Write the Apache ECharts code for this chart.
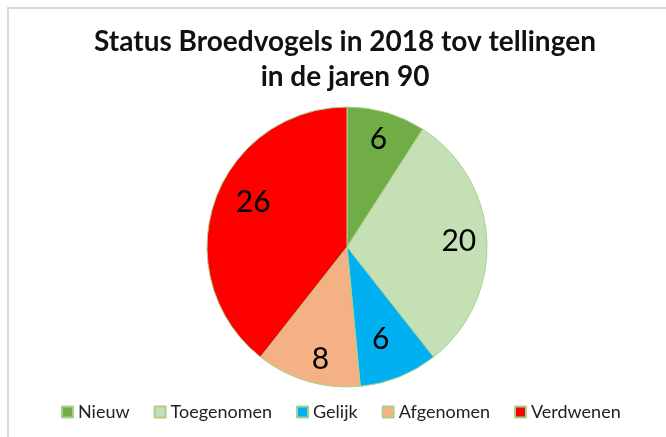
<!DOCTYPE html>
<html>
<head>
<meta charset="utf-8">
<script src="https://cdn.jsdelivr.net/npm/echarts@6/dist/echarts.min.js"></script>
<style>
  html, body { margin: 0; padding: 0; background: #fff; }
  #main { width: 666px; height: 437px; }
</style>
</head>
<body>
<div id="main"></div>
<script>
let categories = ["Nieuw", "Toegenomen", "Gelijk", "Afgenomen", "Verdwenen"];
let seriesData = [6, 20, 6, 8, 26];
let colors = ["#70AD47", "#C5E0B4", "#00B0F0", "#F4B183", "#FF0000"];

let chart = echarts.init(document.getElementById("main"), null, {
  width: 666,
  height: 437,
});

let pieData = categories.map(function (name, i) {
  return { name: name, value: seriesData[i], itemStyle: { color: colors[i] } };
});
let labelData = categories.map(function (name, i) {
  return { name: name, value: seriesData[i] };
});

let option = {
  animation: false,
  title: {
    text: "Status Broedvogels in 2018 tov tellingen\nin de jaren 90",
    left: 340,
    top: 19,
    textAlign: "center",
    textStyle: {
      fontFamily: "Lato",
      fontSize: 28,
      fontWeight: "bold",
      color: "#111",
      lineHeight: 35,
    },
  },
  legend: {
    data: categories,
    left: 56,
    top: 398,
    icon: "rect",
    itemWidth: 11,
    itemHeight: 11,
    itemGap: 24,
    textStyle: {
      fontFamily: "Lato",
      fontSize: 18,
      color: "#222",
    },
  },
  graphic: [
    {
      type: "rect",
      shape: { x: 8, y: 8, width: 700, height: 500 },
      style: { fill: "none", stroke: "#D9D9D9", lineWidth: 2 },
      silent: true,
    },
  ],
  series: [
    {
      type: "pie",
      center: [347, 247],
      radius: 140,
      startAngle: 90,
      clockwise: true,
      label: { show: false },
      labelLine: { show: false },
      itemStyle: { borderColor: "#A9D18E", borderWidth: 1 },
      emphasis: { disabled: true },
      data: pieData,
    },
    {
      // see-through ring, only used to put the value labels at ~0.78 r
      type: "pie",
      center: [347, 247],
      radius: [78, 140],
      startAngle: 90,
      clockwise: true,
      silent: true,
      itemStyle: { color: "rgba(0,0,0,0)", borderWidth: 0 },
      label: {
        show: true,
        position: "inside",
        formatter: "{c}",
        fontFamily: "Lato",
        fontSize: 30,
        color: "#000",
      },
      // excel "best fit" nudges a couple of labels
      labelLayout: function (params) {
        if (params.dataIndex === 2) return { dx: -8, dy: -12 };
        if (params.dataIndex === 3) return { dx: 5, dy: 5 };
        if (params.dataIndex === 4) return { dx: 12, dy: -8 };
        return {};
      },
      labelLine: { show: false },
      emphasis: { disabled: true },
      data: labelData,
    },
  ],
};
chart.setOption(option);
</script>
</body>
</html>
